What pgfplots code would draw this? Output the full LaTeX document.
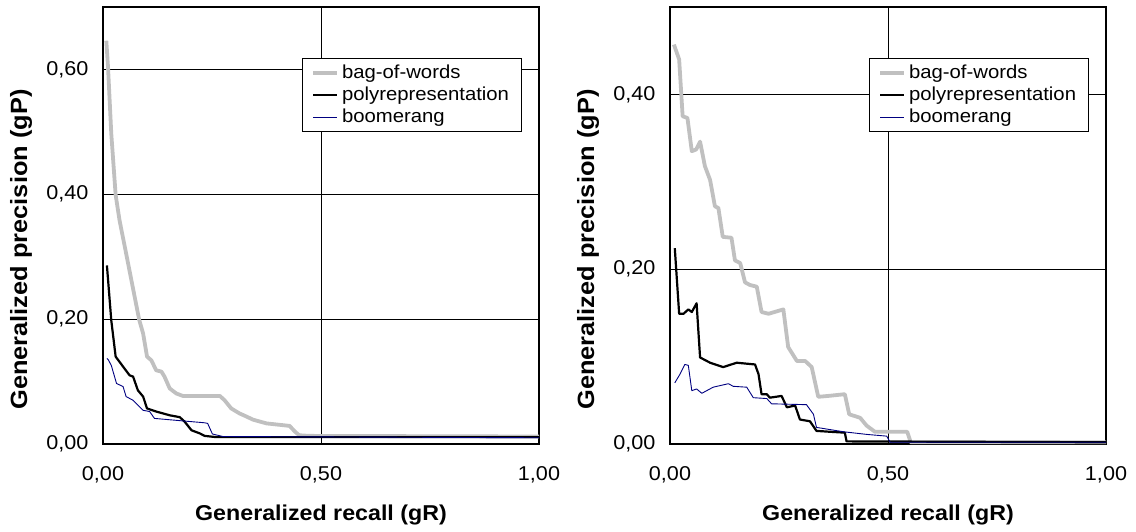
\documentclass[border=0pt]{standalone}
\usepackage{fontspec}
\setmainfont{Liberation Sans}[FakeStretch=1.08]
\usepackage{pgfplots}
\pgfplotsset{compat=1.18}
\definecolor{bowgrey}{RGB}{192,192,192}
\definecolor{boomnavy}{RGB}{0,0,128}
\pgfplotsset{
  myaxis/.style={
    scale only axis, width=436pt, height=437pt,
    xmin=0, xmax=1, ymin=0,
    xtick={0,0.5,1}, xticklabels={{0,00},{0,50},{1,00}},
    grid=major, grid style={black, line width=0.7pt},
    axis line style={black, line width=1.1pt},
    tick align=inside, major tick length=5pt, tick style={black, line width=1pt},
    /pgf/number format/assume math mode=true,
    tick label style={font=\fontsize{20}{23}\selectfont},
    yticklabel style={xshift=-11pt},
    xticklabel style={yshift=-19pt},
    xlabel={Generalized recall (gR)},
    ylabel={Generalized precision (gP)},
    xlabel style={font=\fontsize{21.5}{25}\selectfont\bfseries, at={(axis description cs:0.5,-0.1625)}, anchor=center},
    ylabel style={font=\fontsize{23.5}{27}\selectfont\bfseries, at={(axis description cs:-0.188,0.445)}, anchor=center},
    legend cell align=left,
    legend image code/.code={\draw[#1] (0pt,0pt) -- (24pt,0pt);},
    legend style={at={(0.456,0.883)}, anchor=north west, draw=black, line width=0.8pt, fill=white,
      font=\fontsize{18.8}{22}\selectfont, inner xsep=9pt, inner ysep=3.5pt, row sep=0pt,
      nodes={inner xsep=3pt, inner ysep=2pt, text height=14pt, text depth=4pt}},
  },
  bow/.style={bowgrey, line width=3.8pt, line join=round},
  poly/.style={black, line width=2.2pt, line join=round},
  boom/.style={boomnavy, line width=0.9pt, line join=round},
}
\begin{document}
\begin{tikzpicture}
\useasboundingbox (-103pt,-87pt) rectangle (1033pt,444pt);
\begin{axis}[myaxis, at={(0pt,0pt)}, anchor=south west, ymax=0.7,
  ytick={0,0.2,0.4,0.6}, yticklabels={{0,00},{0,20},{0,40},{0,60}}]
\addplot[bow] coordinates {(0.0076,0.646) (0.0115,0.604) (0.019,0.497) (0.029,0.399) (0.038,0.358) (0.050,0.316) (0.083,0.199) (0.092,0.177) (0.101,0.140) (0.111,0.134) (0.122,0.118) (0.134,0.116) (0.141,0.108) (0.153,0.089) (0.168,0.081) (0.183,0.077) (0.268,0.077) (0.279,0.070) (0.294,0.057) (0.313,0.049) (0.329,0.044) (0.344,0.039) (0.375,0.033) (0.428,0.029) (0.440,0.020) (0.450,0.014) (0.474,0.013) (1.0,0.012)};
\addlegendentry{bag-of-words}
\addplot[poly] coordinates {(0.009,0.286) (0.019,0.198) (0.029,0.140) (0.046,0.124) (0.061,0.110) (0.069,0.108) (0.080,0.086) (0.092,0.076) (0.101,0.057) (0.122,0.052) (0.153,0.046) (0.176,0.043) (0.187,0.036) (0.203,0.022) (0.222,0.017) (0.233,0.013) (0.260,0.011) (1.0,0.011)};
\addlegendentry{polyrepresentation}
\addplot[boom] coordinates {(0.009,0.137) (0.012,0.135) (0.019,0.126) (0.031,0.097) (0.046,0.092) (0.053,0.076) (0.069,0.070) (0.092,0.054) (0.107,0.052) (0.118,0.041) (0.183,0.037) (0.233,0.034) (0.240,0.033) (0.251,0.016) (0.275,0.012) (1.0,0.010)};
\addlegendentry{boomerang}
\end{axis}
\begin{axis}[myaxis, at={(567pt,0pt)}, anchor=south west, ymax=0.5,
  ytick={0,0.2,0.4}, yticklabels={{0,00},{0,20},{0,40}}]
\addplot[bow] coordinates {(0.009,0.457) (0.021,0.440) (0.029,0.375) (0.040,0.373) (0.050,0.335) (0.060,0.337) (0.069,0.346) (0.080,0.318) (0.092,0.302) (0.103,0.272) (0.111,0.270) (0.121,0.237) (0.141,0.236) (0.149,0.210) (0.161,0.207) (0.172,0.185) (0.183,0.182) (0.199,0.180) (0.210,0.151) (0.226,0.149) (0.260,0.154) (0.271,0.111) (0.291,0.095) (0.310,0.095) (0.325,0.088) (0.340,0.054) (0.363,0.055) (0.401,0.057) (0.411,0.034) (0.436,0.030) (0.451,0.021) (0.470,0.014) (0.544,0.014) (0.552,0.002) (1.0,0.002)};
\addlegendentry{bag-of-words}
\addplot[poly] coordinates {(0.011,0.224) (0.021,0.149) (0.031,0.149) (0.042,0.154) (0.050,0.151) (0.061,0.161) (0.069,0.099) (0.092,0.093) (0.122,0.088) (0.153,0.093) (0.195,0.091) (0.203,0.080) (0.210,0.057) (0.222,0.057) (0.229,0.053) (0.256,0.055) (0.268,0.042) (0.287,0.044) (0.298,0.028) (0.321,0.026) (0.336,0.015) (0.367,0.014) (0.401,0.013) (0.405,0.003) (1.0,0.002)};
\addlegendentry{polyrepresentation}
\addplot[boom] coordinates {(0.011,0.070) (0.023,0.080) (0.034,0.091) (0.042,0.090) (0.050,0.061) (0.061,0.063) (0.073,0.058) (0.099,0.065) (0.134,0.069) (0.145,0.066) (0.176,0.065) (0.191,0.053) (0.222,0.052) (0.233,0.046) (0.313,0.045) (0.329,0.034) (0.336,0.019) (0.398,0.014) (0.451,0.011) (0.497,0.009) (0.505,0.002) (1.0,0.002)};
\addlegendentry{boomerang}
\end{axis}
\end{tikzpicture}
\end{document}
